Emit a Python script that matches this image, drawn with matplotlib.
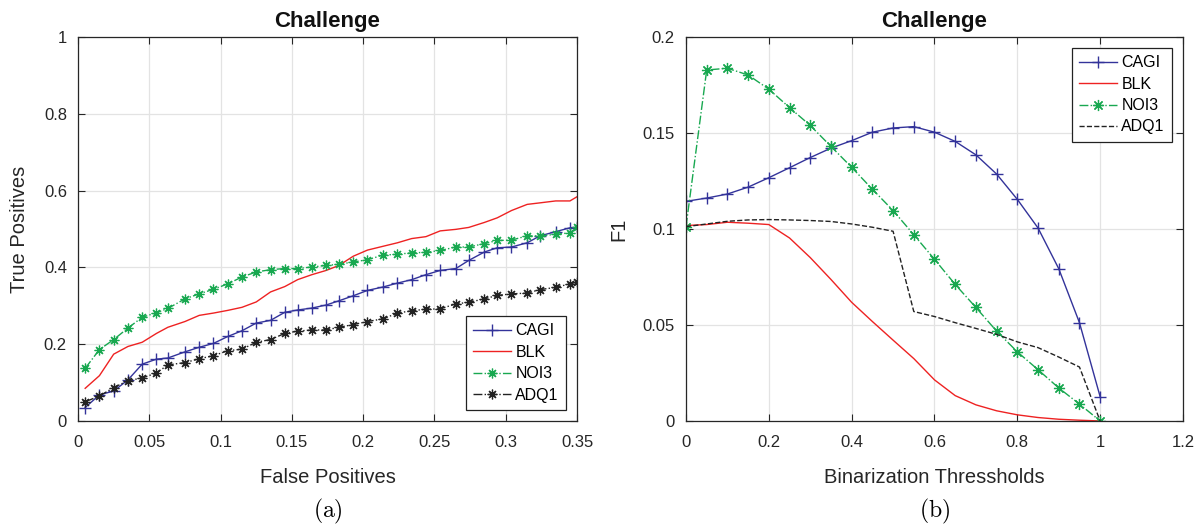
import matplotlib.pyplot as plt
from matplotlib.ticker import FormatStrFormatter

plt.rcParams['font.family'] = ['Liberation Sans', 'DejaVu Sans']
plt.rcParams['mathtext.fontset'] = 'cm'

# ---- (a) ROC-like curves
fp = [0.005, 0.015, 0.025, 0.035, 0.045, 0.055, 0.063, 0.075, 0.085, 0.095,
      0.105, 0.115, 0.125, 0.135, 0.145, 0.154, 0.164, 0.174, 0.183, 0.193,
      0.203, 0.214, 0.224, 0.234, 0.244, 0.254, 0.265, 0.274, 0.285, 0.294,
      0.304, 0.315, 0.324, 0.335, 0.345, 0.35]
tp_cagi = [0.035, 0.068, 0.078, 0.107, 0.148, 0.161, 0.164, 0.180, 0.192, 0.202,
           0.220, 0.235, 0.255, 0.262, 0.283, 0.289, 0.294, 0.302, 0.313, 0.326,
           0.340, 0.349, 0.359, 0.368, 0.381, 0.392, 0.397, 0.418, 0.440, 0.451,
           0.453, 0.464, 0.482, 0.493, 0.503, 0.504]
tp_blk = [0.085, 0.118, 0.174, 0.194, 0.205, 0.228, 0.244, 0.259, 0.275, 0.281,
          0.288, 0.296, 0.310, 0.336, 0.350, 0.368, 0.381, 0.392, 0.405, 0.429,
          0.445, 0.455, 0.464, 0.475, 0.480, 0.495, 0.499, 0.504, 0.517, 0.529,
          0.548, 0.564, 0.568, 0.573, 0.573, 0.584]
tp_noi3 = [0.137, 0.186, 0.212, 0.242, 0.270, 0.282, 0.293, 0.318, 0.331, 0.343,
           0.357, 0.375, 0.388, 0.394, 0.397, 0.397, 0.401, 0.405, 0.408, 0.414,
           0.420, 0.432, 0.434, 0.438, 0.439, 0.444, 0.453, 0.453, 0.462, 0.470,
           0.471, 0.482, 0.482, 0.486, 0.490, 0.504]
tp_adq1 = [0.050, 0.065, 0.087, 0.105, 0.112, 0.125, 0.146, 0.152, 0.162, 0.170,
           0.183, 0.187, 0.205, 0.212, 0.228, 0.234, 0.237, 0.237, 0.244, 0.251,
           0.259, 0.266, 0.281, 0.287, 0.291, 0.292, 0.305, 0.309, 0.318, 0.327,
           0.331, 0.333, 0.342, 0.348, 0.357, 0.362]

# ---- (b) F1 vs threshold
thr = [0.0, 0.05, 0.1, 0.15, 0.2, 0.25, 0.3, 0.35, 0.4, 0.45, 0.5,
       0.55, 0.6, 0.65, 0.7, 0.75, 0.8, 0.85, 0.9, 0.95, 1.0]
f1_cagi = [0.1144, 0.1161, 0.1182, 0.1218, 0.1267, 0.1319, 0.1372, 0.1421, 0.1460, 0.1504,
           0.1526, 0.1533, 0.1504, 0.1456, 0.1386, 0.1286, 0.1154, 0.1005, 0.0793, 0.0512, 0.0126]
f1_blk = [0.1018, 0.1023, 0.1035, 0.1030, 0.1023, 0.0953, 0.0851, 0.0737, 0.0618, 0.0518,
          0.0421, 0.0325, 0.0214, 0.0132, 0.0084, 0.0053, 0.0032, 0.0018, 0.0009, 0.0004, 0.0]
f1_noi3 = [0.1012, 0.1828, 0.1837, 0.1802, 0.1728, 0.1632, 0.1539, 0.1430, 0.1321, 0.1207,
           0.1096, 0.0970, 0.0842, 0.0711, 0.0591, 0.0468, 0.0360, 0.0267, 0.0172, 0.0088, 0.0]
f1_adq1 = [0.1012, 0.1026, 0.1040, 0.1047, 0.1049, 0.1047, 0.1044, 0.1039, 0.1026, 0.1009,
           0.0988, 0.0570, 0.0544, 0.0512, 0.0482, 0.0451, 0.0412, 0.0382, 0.0333, 0.0281, 0.0]

names = ['CAGI', 'BLK', 'NOI3', 'ADQ1']
c_blue, c_red, c_green, c_black = '#33339a', '#ee2222', '#18a850', '#222222'
axcol = '#262626'
star = (8, 2, 0)   # matlab style asterisk


def matlab_style(ax):
    ax.grid(True, color='#e3e3e3', linewidth=0.9)
    ax.set_axisbelow(True)
    for s in ax.spines.values():
        s.set_color(axcol)
        s.set_linewidth(0.9)
    ax.tick_params(direction='in', top=True, right=True, length=5,
                   color=axcol, labelcolor=axcol, labelsize=12)
    ax.tick_params(axis='x', pad=10)
    ax.tick_params(axis='y', pad=8)


def add_legend(ax, where):
    leg = ax.legend(loc=where, fontsize=11.5, fancybox=False, framealpha=1,
                    edgecolor='#222222', handlelength=2.4, borderpad=0.45,
                    labelspacing=0.4, handletextpad=0.25, borderaxespad=0.7)
    leg.get_frame().set_linewidth(0.9)


fig = plt.figure(figsize=(11.97, 5.28), dpi=100)

ax1 = fig.add_axes([0.0652, 0.2027, 0.4169, 0.7273])
ax1.plot(fp, tp_cagi, '-', marker='+', ms=8, mew=1, color=c_blue, lw=1, label=names[0])
ax1.plot(fp, tp_blk, '-', color=c_red, lw=1, label=names[1])
ax1.plot(fp, tp_noi3, '-.', marker=star, ms=7, mew=0.9, color=c_green, lw=1, label=names[2])
ax1.plot(fp, tp_adq1, '-.', marker=star, ms=7, mew=0.9, color=c_black, lw=1, label=names[3])
ax1.set_xlim(0, 0.35)
ax1.set_ylim(0, 1)
ax1.set_xticks([0, 0.05, 0.1, 0.15, 0.2, 0.25, 0.3, 0.35])
ax1.set_yticks([0, 0.2, 0.4, 0.6, 0.8, 1])
ax1.xaxis.set_major_formatter(FormatStrFormatter('%g'))
ax1.yaxis.set_major_formatter(FormatStrFormatter('%g'))
matlab_style(ax1)
ax1.set_xlabel('False Positives', fontsize=14.5, color=axcol)
ax1.set_ylabel('True Positives', fontsize=14.5, color=axcol)
ax1.xaxis.set_label_coords(0.5, -0.122)
ax1.yaxis.set_label_coords(-0.098, 0.5)
ax1.set_title('Challenge', fontsize=16, fontweight='bold', pad=7, color='#111111')
add_legend(ax1, 'lower right')

ax2 = fig.add_axes([0.5731, 0.2027, 0.4152, 0.7273])
ax2.plot(thr, f1_cagi, '-', marker='+', ms=9, mew=1, color=c_blue, lw=1, label=names[0])
ax2.plot(thr, f1_blk, '-', color=c_red, lw=1, label=names[1])
ax2.plot(thr, f1_noi3, '-.', marker=star, ms=8, mew=0.9, color=c_green, lw=1, label=names[2])
ax2.plot(thr, f1_adq1, '--', color=c_black, lw=1, label=names[3])
ax2.set_xlim(0, 1.2)
ax2.set_ylim(0, 0.2)
ax2.set_xticks([0, 0.2, 0.4, 0.6, 0.8, 1, 1.2])
ax2.set_yticks([0, 0.05, 0.1, 0.15, 0.2])
ax2.xaxis.set_major_formatter(FormatStrFormatter('%g'))
ax2.yaxis.set_major_formatter(FormatStrFormatter('%g'))
matlab_style(ax2)
ax2.set_xlabel('Binarization Thressholds', fontsize=14.5, color=axcol)
ax2.set_ylabel('F1', fontsize=14.5, color=axcol)
ax2.xaxis.set_label_coords(0.5, -0.122)
ax2.yaxis.set_label_coords(-0.115, 0.5)
ax2.set_title('Challenge', fontsize=16, fontweight='bold', pad=7, color='#111111')
add_legend(ax2, 'upper right')

fig.text(0.2737, 0.032, r'$\mathrm{(a)}$', ha='center', va='center', fontsize=17)
fig.text(0.7807, 0.032, r'$\mathrm{(b)}$', ha='center', va='center', fontsize=17)

fig.savefig('out.png', dpi=100)
